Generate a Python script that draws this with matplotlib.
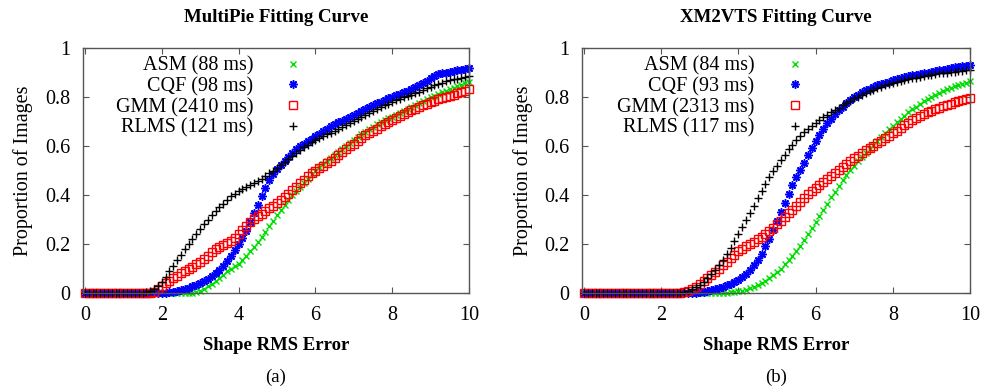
import numpy as np
import matplotlib
matplotlib.use("Agg")
import matplotlib.pyplot as plt

plt.rcParams['font.family'] = ['Liberation Serif', 'DejaVu Serif']

x = [round(0.1 * i, 1) for i in range(101)]

# ---------------- MultiPie (a) ----------------
asm_a = [0]*28 + [0.002, 0.005, 0.01, 0.018, 0.027, 0.038, 0.05, 0.062, 0.075, 0.088,
        0.1, 0.11, 0.12, 0.135, 0.152, 0.17, 0.188, 0.207, 0.228, 0.25,
        0.272, 0.295, 0.318, 0.34, 0.36, 0.38, 0.398, 0.415, 0.432, 0.45,
        0.467, 0.484, 0.5, 0.514, 0.527, 0.54, 0.552, 0.564, 0.576, 0.588,
        0.6, 0.612, 0.624, 0.636, 0.648, 0.658, 0.668, 0.678, 0.688, 0.697,
        0.705, 0.713, 0.72, 0.728, 0.736, 0.744, 0.752, 0.76, 0.768, 0.776,
        0.784, 0.791, 0.798, 0.805, 0.812, 0.819, 0.826, 0.832, 0.838, 0.844,
        0.85, 0.856, 0.86]
cqf_a = [0]*21 + [0.002, 0.004, 0.006, 0.009, 0.012, 0.016, 0.021, 0.027, 0.034,
        0.042, 0.05, 0.059, 0.068, 0.08, 0.094, 0.11, 0.13, 0.152, 0.175,
        0.2, 0.225, 0.255, 0.29, 0.325, 0.36, 0.395, 0.43, 0.46, 0.485,
        0.505, 0.522, 0.54, 0.556, 0.572, 0.586, 0.598, 0.61, 0.62, 0.63,
        0.64, 0.65, 0.66, 0.67, 0.68, 0.688, 0.696, 0.704, 0.712, 0.72,
        0.727, 0.735, 0.743, 0.752, 0.76, 0.767, 0.774, 0.781, 0.788, 0.795,
        0.802, 0.808, 0.814, 0.82, 0.826, 0.832, 0.84, 0.848, 0.857, 0.866,
        0.876, 0.885, 0.892, 0.897, 0.9, 0.903, 0.906, 0.909, 0.912, 0.915, 0.918]
gmm_a = [0]*18 + [0.005, 0.015, 0.028, 0.04, 0.05, 0.06, 0.07, 0.08, 0.09, 0.1,
        0.108, 0.117, 0.128, 0.14, 0.153, 0.166, 0.178, 0.188, 0.196, 0.203,
        0.212, 0.225, 0.24, 0.257, 0.275, 0.29, 0.302, 0.313, 0.324, 0.335,
        0.346, 0.357, 0.368, 0.38, 0.393, 0.406, 0.42, 0.434, 0.448, 0.462,
        0.476, 0.488, 0.5, 0.51, 0.52, 0.53, 0.54, 0.55, 0.562, 0.574,
        0.586, 0.598, 0.61, 0.621, 0.632, 0.643, 0.653, 0.662, 0.671, 0.68,
        0.689, 0.698, 0.707, 0.715, 0.723, 0.731, 0.738, 0.745, 0.752, 0.759,
        0.766, 0.773, 0.779, 0.785, 0.79, 0.795, 0.8, 0.805, 0.81, 0.815,
        0.82, 0.826, 0.832]
rlms_a = [0]*16 + [0.003, 0.008, 0.018, 0.03, 0.045, 0.065, 0.09, 0.11, 0.135, 0.155,
        0.18, 0.2, 0.22, 0.24, 0.26, 0.28, 0.3, 0.32, 0.335, 0.35,
        0.365, 0.38, 0.395, 0.405, 0.415, 0.425, 0.432, 0.44, 0.448, 0.457,
        0.467, 0.478, 0.49, 0.5, 0.51, 0.522, 0.535, 0.548, 0.56, 0.572,
        0.583, 0.594, 0.605, 0.615, 0.625, 0.632, 0.64, 0.647, 0.655, 0.662,
        0.67, 0.678, 0.686, 0.694, 0.702, 0.71, 0.718, 0.726, 0.734, 0.742,
        0.75, 0.758, 0.766, 0.773, 0.78, 0.786, 0.792, 0.798, 0.804, 0.81,
        0.816, 0.822, 0.828, 0.835, 0.842, 0.848, 0.854, 0.859, 0.864, 0.868,
        0.872, 0.875, 0.878, 0.881, 0.884]

# ---------------- XM2VTS (b) ----------------
asm_b = [0]*36 + [0.001, 0.002, 0.003, 0.005, 0.007, 0.01, 0.014, 0.019, 0.025, 0.032,
        0.04, 0.05, 0.06, 0.072, 0.085, 0.1, 0.117, 0.135, 0.153, 0.172,
        0.192, 0.215, 0.24, 0.265, 0.29, 0.315, 0.34, 0.365, 0.39, 0.414,
        0.437, 0.46, 0.482, 0.502, 0.52, 0.538, 0.555, 0.572, 0.589, 0.605,
        0.621, 0.637, 0.653, 0.668, 0.683, 0.697, 0.711, 0.724, 0.737, 0.749,
        0.761, 0.772, 0.782, 0.792, 0.801, 0.809, 0.817, 0.824, 0.831, 0.837,
        0.843, 0.849, 0.854, 0.859, 0.865]
cqf_b = [0]*29 + [0.002, 0.004, 0.006, 0.009, 0.012, 0.016, 0.02, 0.025, 0.031, 0.038,
        0.046, 0.055, 0.066, 0.079, 0.095, 0.113, 0.135, 0.16, 0.19, 0.222,
        0.256, 0.292, 0.33, 0.368, 0.405, 0.44, 0.472, 0.502, 0.532, 0.562,
        0.592, 0.62, 0.646, 0.67, 0.692, 0.712, 0.73, 0.746, 0.761, 0.775,
        0.788, 0.8, 0.81, 0.819, 0.827, 0.834, 0.841, 0.847, 0.853, 0.858,
        0.863, 0.868, 0.872, 0.876, 0.88, 0.884, 0.888, 0.891, 0.894, 0.897,
        0.9, 0.903, 0.906, 0.909, 0.912, 0.915, 0.918, 0.921, 0.924, 0.926,
        0.928, 0.93]
gmm_b = [0]*26 + [0.003, 0.008, 0.015, 0.025, 0.036, 0.048, 0.06, 0.073, 0.086, 0.1,
        0.114, 0.128, 0.142, 0.156, 0.17, 0.18, 0.19, 0.2, 0.21, 0.22,
        0.23, 0.241, 0.252, 0.265, 0.28, 0.295, 0.31, 0.325, 0.34, 0.356,
        0.372, 0.388, 0.403, 0.417, 0.43, 0.442, 0.454, 0.466, 0.478, 0.49,
        0.502, 0.514, 0.526, 0.538, 0.55, 0.561, 0.572, 0.582, 0.592, 0.602,
        0.612, 0.622, 0.632, 0.642, 0.652, 0.663, 0.674, 0.685, 0.695, 0.705,
        0.714, 0.722, 0.73, 0.737, 0.744, 0.75, 0.756, 0.762, 0.768, 0.773,
        0.778, 0.783, 0.787, 0.791, 0.795]
rlms_b = [0]*25 + [0.002, 0.005, 0.01, 0.016, 0.024, 0.034, 0.046, 0.06, 0.076, 0.094,
        0.114, 0.136, 0.16, 0.185, 0.212, 0.24, 0.268, 0.297, 0.327, 0.357,
        0.387, 0.417, 0.445, 0.472, 0.497, 0.52, 0.543, 0.565, 0.586, 0.606,
        0.624, 0.641, 0.656, 0.67, 0.683, 0.695, 0.706, 0.717, 0.727, 0.737,
        0.747, 0.757, 0.767, 0.776, 0.785, 0.794, 0.802, 0.81, 0.817, 0.824,
        0.83, 0.836, 0.842, 0.847, 0.852, 0.857, 0.861, 0.865, 0.869, 0.873,
        0.876, 0.879, 0.882, 0.885, 0.888, 0.891, 0.893, 0.896, 0.898, 0.9,
        0.902, 0.904, 0.906, 0.908, 0.91, 0.912]

labels_a = ["ASM (88 ms)", "CQF (98 ms)", "GMM (2410 ms)", "RLMS (121 ms)"]
labels_b = ["ASM (84 ms)", "CQF (93 ms)", "GMM (2313 ms)", "RLMS (117 ms)"]
titles = ["MultiPie Fitting Curve", "XM2VTS Fitting Curve"]
captions = ["(a)", "(b)"]
xticks = [0, 2, 4, 6, 8, 10]
yticks = [0, 0.2, 0.4, 0.6, 0.8, 1]
ytick_labels = ["0", "0.2", "0.4", "0.6", "0.8", "1"]

W, H = 993, 391
fig = plt.figure(figsize=(W/100, H/100), dpi=100)

def fx(px):
    return px / W

def fy(py):
    return 1 - py / H

panels = [
    dict(left=83, right=469, data=[asm_a, cqf_a, gmm_a, rlms_a], labels=labels_a,
         ylab_x=23, leg_right=0.597),
    dict(left=582, right=970, data=[asm_b, cqf_b, gmm_b, rlms_b], labels=labels_b,
         ylab_x=523, leg_right=0.600),
]
top, bottom = 48, 293

styles = [
    dict(marker='x', color='#00dd00', ms=5, mew=1.0, mfc='none'),
    dict(marker=(8, 2, 0), color='#0000ff', ms=6, mew=1.1, mfc='none'),
    dict(marker='s', color='#ff0000', ms=6, mew=1.0, mfc='none'),
    dict(marker='+', color='#000000', ms=5.5, mew=1.0, mfc='none'),
]

for i, p in enumerate(panels):
    ax = fig.add_axes([fx(p['left']), fy(bottom), fx(p['right'] - p['left']),
                       (bottom - top) / H])
    for series, lab, st in zip(p['data'], p['labels'], styles):
        n = len(series)
        ax.plot(x[:n], series, linestyle='none', marker=st['marker'], color=st['color'],
                markersize=st['ms'], markeredgewidth=st['mew'],
                markerfacecolor=st['mfc'], label=lab, clip_on=False)
    ax.set_xlim(-0.05, 10)
    ax.set_ylim(0, 1)
    ax.set_xticks(xticks)
    ax.set_xticklabels([str(t) for t in xticks])
    ax.set_yticks(yticks)
    ax.set_yticklabels(ytick_labels)
    ax.tick_params(direction='in', top=True, right=True, length=4, width=0.8,
                   color='#555555', labelsize=14.5)
    ax.tick_params(axis='y', pad=9)
    ax.tick_params(axis='x', pad=9)
    for s in ax.spines.values():
        s.set_color('#555555')
        s.set_linewidth(1.0)
    leg = ax.legend(loc='upper right', bbox_to_anchor=(p['leg_right'], 0.965),
                    markerfirst=False, frameon=False, fontsize=14.5, numpoints=1,
                    handlelength=2.0, handletextpad=1.0, labelspacing=0.07,
                    borderpad=0.0, borderaxespad=0.0)
    for t in leg.get_texts():
        t.set_ha('right')
    cx = (p['left'] + p['right']) / 2
    fig.text(fx(cx), fy(18), titles[i], ha='center', va='center', fontsize=13.6,
             fontweight='bold')
    fig.text(fx(cx), fy(345), "Shape RMS Error", ha='center', va='center',
             fontsize=13.5, fontweight='bold')
    fig.text(fx(cx), fy(377), captions[i], ha='center', va='center', fontsize=13.5)
    fig.text(fx(p['ylab_x']), fy(171), "Proportion of Images", ha='center',
             va='center', rotation=90, fontsize=14.5)

fig.savefig("out.png", dpi=100)
